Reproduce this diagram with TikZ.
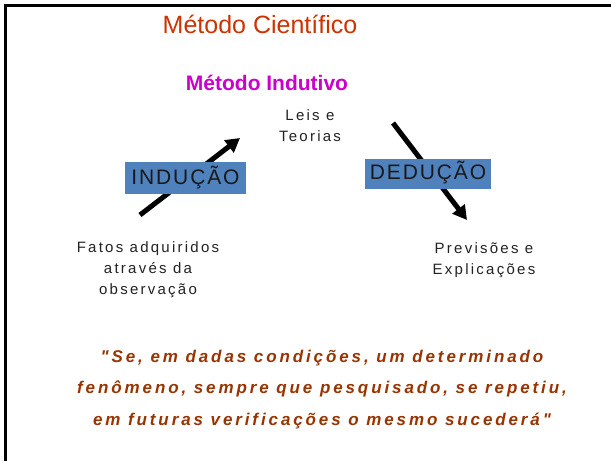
\documentclass[tikz,border=0pt]{standalone}
\usepackage{fontspec}
\setmainfont{Liberation Sans}
\newfontfamily\lblfont[LetterSpace=15]{Liberation Sans}
\newfontfamily\boxfont[LetterSpace=9]{Liberation Sans}
\newfontfamily\quotefont[LetterSpace=17]{Liberation Sans}
\usetikzlibrary{arrows.meta}
\definecolor{titlered}{HTML}{CC3300}
\definecolor{submag}{HTML}{CC00CC}
\definecolor{quotebrown}{HTML}{993300}
\definecolor{boxblue}{HTML}{4F81BD}
\definecolor{lbltext}{HTML}{222222}
\tikzset{
  lbl/.style={text=lbltext, align=center, inner sep=0pt, font=\lblfont\fontsize{15}{21}\selectfont},
  bluebox/.style={fill=boxblue, inner sep=0pt, text=black!90, font=\boxfont\fontsize{21}{25}\selectfont},
  bigarrow/.style={line width=5pt, -{Triangle[length=14pt,width=15pt]}},
}
\begin{document}
\begin{tikzpicture}[x=1pt,y=-1pt]
\useasboundingbox (0,0) rectangle (611,461);
\draw[line width=3.3pt] (5.7,461) -- (5.7,5.7) -- (611,5.7);
\node[anchor=base, text=titlered, inner sep=0pt, font=\fontsize{25}{30}\selectfont] (title) at (260,33) {Método Científico};
\node[anchor=base, text=submag, inner sep=0pt, font=\bfseries\fontsize{21}{25}\selectfont] (sub) at (267,90) {Método Indutivo};
\node[lbl, anchor=base] (leis) at (310,141) {Leis e\\Teorias};
\node[lbl, anchor=base] (fatos) at (148,294) {Fatos adquiridos\\através da\\observação};
\node[lbl, anchor=base] (prev) at (484,274) {Previsões e\\Explicações};
\coordinate (i1) at (140,215);
\coordinate (i2) at (240,138);
\coordinate (d1) at (393,123);
\coordinate (d2) at (467,220);
\draw[bigarrow] (i1) -- (i2);
\draw[bigarrow] (d1) -- (d2);
\node[bluebox, minimum width=121pt, minimum height=32pt] (ind) at (185.5,178) {INDUÇÃO};
\node[bluebox, minimum width=126pt, minimum height=30pt, text depth=8pt] (ded) at (428,174) {DEDUÇÃO};
\node[anchor=base, align=center, text=quotebrown, inner sep=0pt, font=\quotefont\bfseries\itshape\fontsize{17}{31.5}\selectfont] (quote) at (322,425) {"Se, em dadas condições, um determinado\\fenômeno, sempre que pesquisado, se repetiu,\\em futuras verificações o mesmo sucederá"};
\end{tikzpicture}
\end{document}
